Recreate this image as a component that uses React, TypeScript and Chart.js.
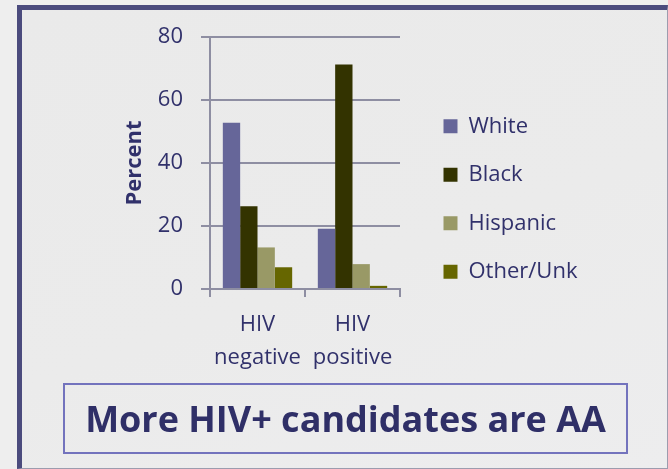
import React, { useEffect, useRef } from "react";
import { Chart, registerables } from "chart.js";

Chart.register(...registerables);

// Chart data
const categories = [
  ["HIV", "negative"],
  ["HIV", "positive"],
];
const seriesNames = ["White", "Black", "Hispanic", "Other/Unk"];
const white = [52.8, 19.1];
const black = [26.3, 71.3];
const hispanic = [13.2, 7.9];
const otherUnk = [6.9, 1.0];
const yTicks = [0, 20, 40, 60, 80];
const yTitle = "Percent";
const caption = "More HIV+ candidates are AA";

// Styling
const seriesColors = ["#666699", "#333300", "#999966", "#666600"];
const inkColor = "#31316b";
const gridColor = "#8e8ea2";
const fontFamily = "'Open Sans', 'DejaVu Sans', sans-serif";
const canvasWidth = 668;

// Moves the legend column into its slot beside the plot and lets it run to the edge.
const legendSlot = {
  id: "legendSlot",
  afterLayout(chart: any) {
    const lg = chart.legend;
    if (!lg) return;
    lg.left += 17;
    lg.right = canvasWidth;
    lg.width = lg.right - lg.left;
    lg.top -= 12;
    lg.bottom -= 12;
  },
};

export default function App() {
  const canvasRef = useRef<HTMLCanvasElement | null>(null);

  useEffect(() => {
    const canvas = canvasRef.current;
    if (!canvas) return;
    const values = [white, black, hispanic, otherUnk];
    const chart = new Chart(canvas, {
      type: "bar",
      data: {
        labels: categories,
        datasets: seriesNames.map((name, i) => ({
          label: name,
          data: values[i],
          backgroundColor: seriesColors[i],
          borderWidth: 0,
          categoryPercentage: 0.73,
          barPercentage: 1,
        })),
      },
      options: {
        responsive: false,
        animation: false,
        layout: { padding: { left: 119, top: 37, right: 118, bottom: 84 } },
        plugins: {
          legend: {
            position: "right",
            align: "center",
            maxWidth: 150,
            labels: {
              boxWidth: 14,
              boxHeight: 14,
              padding: 26.5,
              color: inkColor,
              font: { family: fontFamily, size: 22 },
            },
          },
          tooltip: { enabled: false },
        },
        scales: {
          x: {
            grid: {
              display: true,
              offset: true,
              drawOnChartArea: false,
              drawTicks: true,
              tickLength: 8,
              color: gridColor,
              lineWidth: 2,
            },
            border: { display: true, color: gridColor, width: 2 },
            ticks: {
              color: inkColor,
              padding: 11,
              maxRotation: 0,
              font: { family: fontFamily, size: 22, lineHeight: 1.5 },
            },
          },
          y: {
            min: yTicks[0],
            max: yTicks[yTicks.length - 1],
            grid: { color: gridColor, lineWidth: 2, tickLength: 9 },
            border: { display: true, color: gridColor, width: 2 },
            ticks: {
              stepSize: yTicks[1] - yTicks[0],
              padding: 18,
              color: inkColor,
              font: { family: fontFamily, size: 22 },
            },
            title: {
              display: true,
              text: yTitle,
              color: inkColor,
              padding: { top: 3, bottom: 4 },
              font: { family: fontFamily, size: 22, weight: "bold" },
            },
            afterFit: (scale: any) => {
              scale.width = 91;
            },
          },
        },
      },
      plugins: [legendSlot],
    } as any);
    return () => chart.destroy();
  }, []);

  return (
    <div
      style={{
        position: "fixed",
        left: 0,
        top: 0,
        width: 668,
        height: 469,
        overflow: "hidden",
        background: "#eeeeee",
      }}
    >
      {/* slide panel with its heavy left and top rule */}
      <div
        style={{
          position: "absolute",
          left: 17,
          top: 5,
          width: 668 - 17,
          height: 469 - 5,
          borderLeft: "5px solid #4b4b7d",
          borderTop: "5px solid #4b4b7d",
          borderRight: "1px solid #9c9cae",
          borderBottom: "1px solid #9c9cae",
          boxSizing: "border-box",
          background:
            "linear-gradient(160deg, #eaeaea 0%, #ebebeb 55%, #ededee 100%)",
        }}
      />
      <canvas
        ref={canvasRef}
        width={668}
        height={469}
        style={{ position: "absolute", left: 0, top: 0, width: 668, height: 469 }}
      />
      {/* caption box */}
      <div
        style={{
          position: "absolute",
          left: 63,
          top: 383,
          width: 628 - 63,
          height: 454 - 383,
          border: "2px solid #7373bd",
          boxSizing: "border-box",
          display: "flex",
          alignItems: "center",
          justifyContent: "center",
          fontFamily: fontFamily,
          fontWeight: 700,
          fontSize: 36,
          lineHeight: 1,
          color: "#2f2f67",
          whiteSpace: "nowrap",
        }}
      >
        {caption}
      </div>
    </div>
  );
}
